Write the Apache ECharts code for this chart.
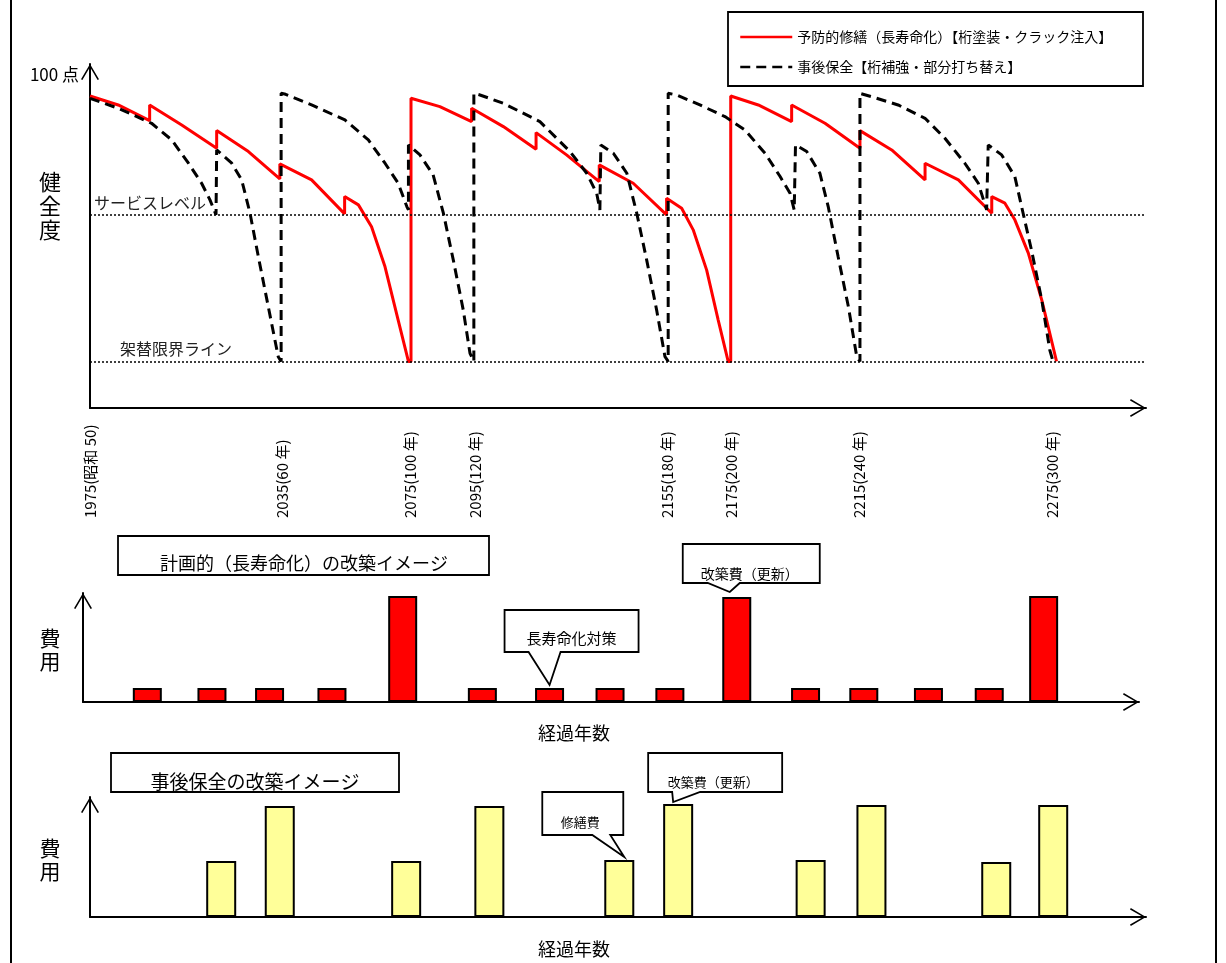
<!DOCTYPE html>
<html><head><meta charset="utf-8">
<script src="https://cdn.jsdelivr.net/npm/echarts@6/dist/echarts.min.js"></script>
<style>html,body{margin:0;padding:0;background:#fff}#c{width:1226px;height:963px}</style>
</head><body><div id="c"></div>
<script>
const FONT = "'Noto Sans CJK JP', 'Noto Sans', sans-serif";

// ---- Top chart: health score (健全度) over elapsed years ----
const preventiveName = '予防的修繕（長寿命化）【桁塗装・クラック注入】';
const reactiveName = '事後保全【桁補強・部分打ち替え】';

const preventiveYears = [0, 8.8, 18.6, 18.6, 28.6, 39.5, 39.5, 49.4, 59.2, 59.2, 69.1, 79.4, 79.4, 83.7, 87.8, 92.0, 96.1, 99.3, 100.1, 100.1,
  109.1, 119.0, 119.0, 128.9, 139.1, 139.1, 148.6, 158.8, 158.8, 169.4, 179.8, 179.8, 184.5, 188.1, 192.3, 195.9, 199.0, 199.8, 199.8,
  208.4, 218.8, 218.8, 229.2, 240.1, 240.1, 250.0, 260.4, 260.4, 270.8, 281.2, 281.2, 285.3, 288.4, 292.6, 296.8, 301.4];
const preventiveScores = [93.7, 91.0, 86.3, 91.0, 85.0, 78.0, 83.3, 77.0, 68.8, 73.3, 68.5, 58.3, 63.5, 61.0, 54.4, 42.4, 26.4, 14.0, 14.0, 93.0,
  90.5, 86.0, 90.0, 84.5, 77.7, 82.7, 76.0, 68.0, 73.0, 67.5, 58.0, 63.0, 60.0, 53.5, 41.4, 26.4, 14.0, 14.0, 93.7,
  91.0, 86.0, 91.0, 85.5, 78.0, 83.3, 77.5, 68.5, 73.5, 68.5, 58.5, 63.5, 61.5, 56.5, 46.5, 32.4, 14.0];

const reactiveYears = [0, 8.8, 19.2, 25.5, 30.7, 34.8, 37.4, 39.3, 39.5, 44.2, 47.3, 49.9, 52.5, 55.6, 58.7, 59.6, 59.6,
  61.0, 69.1, 79.5, 86.8, 92.0, 96.1, 98.8, 99.3, 99.3, 102.9, 107.0, 110.2, 113.3, 116.4, 118.5, 119.7, 119.7,
  121.6, 128.9, 140.3, 149.7, 154.9, 158.0, 159.0, 159.3, 163.2, 167.4, 170.5, 173.6, 176.7, 179.3, 180.3, 180.3,
  182.9, 190.2, 198.0, 204.2, 210.5, 215.2, 218.3, 219.6, 220.0, 223.5, 227.6, 230.2, 233.3, 236.5, 239.1, 240.1, 240.1,
  243.7, 252.0, 260.4, 266.6, 272.8, 277.0, 279.6, 280.1, 284.3, 288.4, 290.5, 293.6, 296.8, 299.3, 300.3];
const reactiveScores = [93.0, 90.0, 85.5, 80.5, 73.5, 67.5, 62.5, 58.0, 77.5, 73.5, 68.5, 58.5, 45.4, 30.4, 15.4, 14.0, 94.5,
  94.2, 91.0, 86.5, 80.5, 73.5, 67.5, 60.5, 59.5, 79.0, 76.0, 70.0, 58.5, 44.4, 29.4, 16.4, 14.0, 94.5,
  94.0, 91.5, 86.0, 77.0, 70.5, 64.5, 59.5, 79.0, 76.5, 70.5, 58.5, 44.4, 29.4, 15.4, 14.0, 94.5,
  94.0, 91.0, 87.5, 83.5, 76.5, 69.5, 64.5, 59.5, 79.0, 77.0, 70.5, 60.5, 45.4, 30.4, 15.4, 14.0, 94.5,
  93.5, 91.0, 87.0, 81.0, 73.5, 67.5, 59.5, 79.0, 76.0, 69.5, 60.5, 47.4, 32.4, 17.4, 14.0];

const serviceLevel = 58;
const replaceLimit = 14;
const axisTickYears = [0, 60, 100, 120, 180, 200, 240, 300];
const axisTickLabels = ['1975(昭和 50)', '2035(60 年)', '2075(100 年)', '2095(120 年)', '2155(180 年)', '2175(200 年)', '2215(240 年)', '2275(300 年)'];

// ---- Middle chart: planned (long-life) costs ----
const plannedCostYears = [20.1, 40.3, 58.3, 77.8, 99.9, 124.8, 145.8, 164.7, 183.4, 204.3, 225.8, 244.0, 264.2, 283.2, 300.2];
const plannedCosts = [14, 14, 14, 14, 106, 14, 14, 14, 14, 105, 14, 14, 14, 14, 106];

// ---- Bottom chart: reactive maintenance costs ----
const reactiveCostYears = [41.0, 59.3, 98.8, 124.8, 165.4, 183.8, 225.2, 244.2, 283.2, 301.0];
const reactiveCosts = [56, 111, 56, 111, 57, 113, 57, 112, 55, 112];

const zip = (a, b) => a.map((v, i) => [v, b[i]]);
const ARROW = 'path://M9,0 L18,15.2 L16.6,16 L9,2.9 L1.4,16 L0,15.2 Z';

function arrowAxisLine() {
  return { show: true, onZero: false, symbol: ['none', ARROW], symbolSize: [18, 16], symbolOffset: [0, -8],
    lineStyle: { color: '#000', width: 2 } };
}
function plainAxis(type, gridIndex, max) {
  return { type: 'value', gridIndex, min: 0, max, axisLine: arrowAxisLine(), axisTick: { show: false },
    axisLabel: { show: false }, splitLine: { show: false } };
}

const chart = echarts.init(document.getElementById('c'), null, { renderer: 'canvas' });

const option = {
  animation: false,
  backgroundColor: '#fff',
  textStyle: { fontFamily: FONT },
  grid: [
    { left: 90, top: 64, width: 1056, height: 344, outerBoundsMode: 'none', containLabel: false },
    { left: 83, top: 593, width: 1056, height: 109, outerBoundsMode: 'none', containLabel: false },
    { left: 90, top: 797, width: 1056, height: 120, outerBoundsMode: 'none', containLabel: false }
  ],
  legend: {
    data: [preventiveName, reactiveName],
    left: 739, top: 30, orient: 'vertical', padding: 0,
    itemWidth: 52, itemHeight: 14, itemGap: 16, selectedMode: false,
    lineStyle: { width: 2.5 },
    itemStyle: { opacity: 0, color: 'rgba(0,0,0,0)', borderColor: 'rgba(0,0,0,0)', borderWidth: 0 },
    textStyle: { fontSize: 14, color: '#000', fontFamily: FONT }
  },
  xAxis: [
    { type: 'value', gridIndex: 0, min: 0, max: 329.3,
      axisLine: arrowAxisLine(), axisTick: { show: false }, splitLine: { show: false },
      axisLabel: { show: true, customValues: axisTickYears, rotate: 90, align: 'left', verticalAlign: 'middle',
        margin: 110, fontSize: 15, color: '#000', fontFamily: FONT,
        formatter: v => axisTickLabels[axisTickYears.indexOf(v)] } },
    plainAxis('x', 1, 330),
    plainAxis('x', 2, 330)
  ],
  yAxis: [
    { type: 'value', gridIndex: 0, min: 0, max: 103.3,
      axisLine: arrowAxisLine(), axisTick: { show: false }, splitLine: { show: false },
      axisLabel: { show: true, customValues: [100], formatter: '100 点', margin: 11, fontSize: 17, color: '#000', fontFamily: FONT } },
    plainAxis('y', 1, 109),
    plainAxis('y', 2, 120)
  ],
  series: [
    { name: preventiveName, type: 'line', xAxisIndex: 0, yAxisIndex: 0,
      data: zip(preventiveYears, preventiveScores), symbol: 'none', showSymbol: false,
      lineStyle: { color: '#ff0000', width: 3 }, itemStyle: { color: '#ff0000' }, z: 3,
      markLine: {
        silent: true, symbol: ['none', 'none'], animation: false,
        lineStyle: { color: '#000', type: [2, 2], width: 1.5 },
        label: { position: 'insideStartTop', color: '#222', fontSize: 16, fontFamily: FONT, distance: 4 },
        data: [
          { yAxis: serviceLevel, label: { formatter: 'サービスレベル', padding: [0, 0, 0, 0] } },
          { yAxis: replaceLimit, label: { formatter: '架替限界ライン', padding: [0, 0, 0, 26] } }
        ]
      } },
    { name: reactiveName, type: 'line', xAxisIndex: 0, yAxisIndex: 0,
      data: zip(reactiveYears, reactiveScores), symbol: 'none', showSymbol: false,
      lineStyle: { color: '#000', width: 3, type: [10, 6] }, itemStyle: { color: '#000' }, z: 4 },
    { name: '計画的改築費', type: 'bar', xAxisIndex: 1, yAxisIndex: 1,
      data: zip(plannedCostYears, plannedCosts), barWidth: 29,
      itemStyle: { color: '#ff0000', borderColor: '#000', borderWidth: 2 } },
    { name: '事後保全改築費', type: 'bar', xAxisIndex: 2, yAxisIndex: 2,
      data: zip(reactiveCostYears, reactiveCosts), barWidth: 30,
      itemStyle: { color: '#ffff99', borderColor: '#000', borderWidth: 2 } }
  ]
};
chart.setOption(option);

function txt(x, y, text, fontSize, extra) {
  return Object.assign({ type: 'text', x, y, z: 110,
    style: { text, fontSize, fontFamily: FONT, fill: '#000', align: 'center', verticalAlign: 'middle', lineHeight: fontSize + 2 } }, extra || {});
}
function box(x, y, w, h) {
  return { type: 'rect', z: 100, shape: { x, y, width: w, height: h }, style: { fill: '#fff', stroke: '#000', lineWidth: 1.8 } };
}
function callout(grid, xv, yv, dx, dy, L, R, T, B, tL, tR, text, fs, tdx, tdy) {
  const p = chart.convertToPixel({ xAxisIndex: grid, yAxisIndex: grid }, [xv, yv]);
  const tx = p[0] + dx, ty = p[1] + dy;
  const pts = [[tx + L, ty + T], [tx + R, ty + T], [tx + R, ty + B], [tx + tR, ty + B], [tx, ty], [tx + tL, ty + B], [tx + L, ty + B]];
  return [
    { type: 'polygon', z: 100, shape: { points: pts }, style: { fill: '#fff', stroke: '#000', lineWidth: 1.8 } },
    txt(tx + tdx, ty + tdy, text, fs)
  ];
}
function vtext(x, y, text, fs) {
  return { type: 'text', x, y, z: 110,
    style: { text, fontSize: fs, lineHeight: fs + 2, fontFamily: FONT, fill: '#000', align: 'center', verticalAlign: 'middle' } };
}

const graphics = [
  { type: 'rect', z: 90, shape: { x: 11, y: -5, width: 1205, height: 975 }, style: { fill: 'none', stroke: '#000', lineWidth: 2 } },
  { type: 'rect', z: 90, shape: { x: 728, y: 12, width: 415, height: 74 }, style: { fill: 'none', stroke: '#000', lineWidth: 1.8 } },
  vtext(50, 206, '健\n全\n度', 22),
  box(118, 536, 371, 39), txt(304, 563, '計画的（長寿命化）の改築イメージ', 18),
  vtext(50, 650, '費\n用', 21),
  txt(574, 733, '経過年数', 18),
  box(111, 753, 288, 39), txt(255, 782, '事後保全の改築イメージ', 19),
  vtext(50, 860, '費\n用', 21),
  txt(574, 949, '経過年数', 18)
].concat(
  callout(1, plannedCostYears[6], plannedCosts[6], 0, -3, -45, 89, -75, -33, -21, 11, '長寿命化対策', 15, 22, -47),
  callout(1, plannedCostYears[9], plannedCosts[9], -7, -5, -47, 90, -48, -9, -22, 10, '改築費（更新）', 14, 20, -18),
  callout(2, reactiveCostYears[4], reactiveCosts[4], 5, -3, -82, -1, -65, -22, -32, -14, '修繕費', 13, -44, -35),
  callout(2, reactiveCostYears[5], reactiveCosts[5], -5, -2, -25, 109, -49, -10, -1, 27, '改築費（更新）', 13, 40, -20)
);
chart.setOption({ graphic: graphics });
</script>
</body></html>
